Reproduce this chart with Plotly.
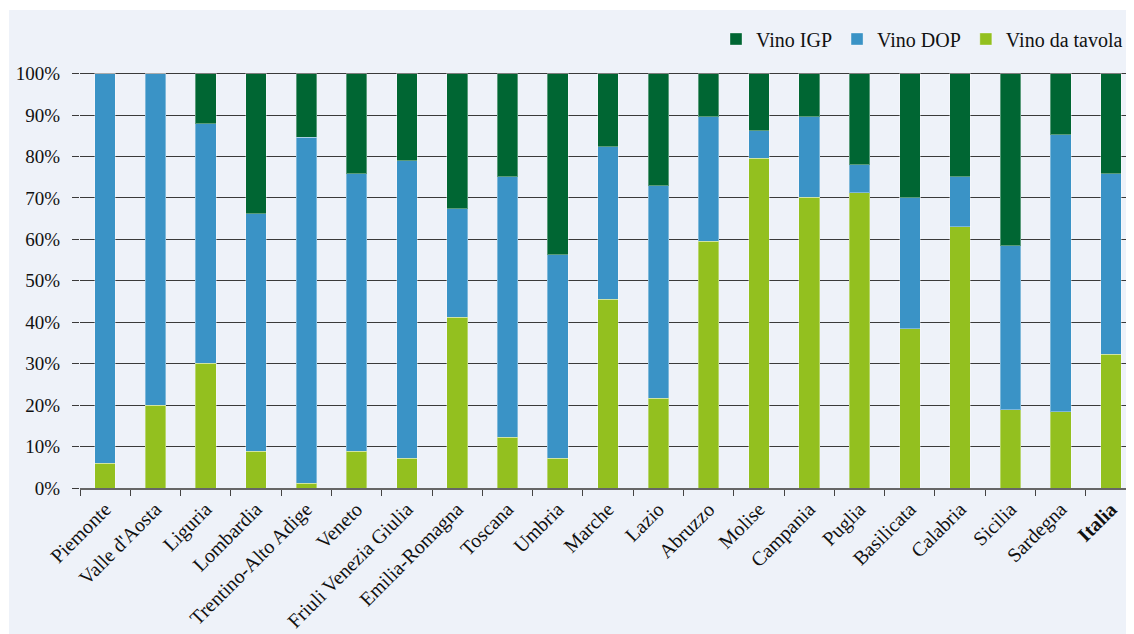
import plotly.graph_objects as go

regions = ["Piemonte", "Valle d'Aosta", "Liguria", "Lombardia", "Trentino-Alto Adige",
           "Veneto", "Friuli Venezia Giulia", "Emilia-Romagna", "Toscana", "Umbria",
           "Marche", "Lazio", "Abruzzo", "Molise", "Campania", "Puglia", "Basilicata",
           "Calabria", "Sicilia", "Sardegna", "Italia"]

# shares (%)
vino_tavola = [6.0, 20.0, 30.1, 8.9, 1.1, 8.9, 7.2, 41.2, 12.2, 7.2,
               45.6, 21.7, 59.6, 79.6, 70.2, 71.3, 38.4, 63.0, 18.9, 18.4, 32.3]
vino_dop = [94.0, 80.0, 57.8, 57.3, 83.5, 66.9, 71.8, 26.2, 62.9, 49.1,
            36.8, 51.2, 30.0, 6.6, 19.4, 6.7, 31.7, 12.1, 39.6, 66.9, 43.5]
vino_igp = [0.0, 0.0, 12.1, 33.8, 15.4, 24.2, 21.0, 32.6, 24.9, 43.7,
            17.6, 27.1, 10.4, 13.8, 10.4, 22.0, 29.9, 24.9, 41.5, 14.7, 24.2]

tick_labels = [r if r != "Italia" else "<b>Italia</b>" for r in regions]
y_ticks = [0, 10, 20, 30, 40, 50, 60, 70, 80, 90, 100]
y_tick_text = [f"{v}%" for v in y_ticks]

FONT = "Liberation Serif"
edge = dict(color="rgba(255,255,255,0.35)", width=1)

fig = go.Figure()
fig.add_trace(go.Bar(x=regions, y=vino_tavola, name="Vino da tavola",
                     marker=dict(color="#93C01F", line=edge), width=0.41))
fig.add_trace(go.Bar(x=regions, y=vino_dop, name="Vino DOP",
                     marker=dict(color="#3A93C6", line=edge), width=0.41))
fig.add_trace(go.Bar(x=regions, y=vino_igp, name="Vino IGP",
                     marker=dict(color="#006633", line=edge), width=0.41))

# page body has an 8px margin; figure coordinates are page coords - 8
OFF = 8
W, H = 1134 - OFF, 634 - OFF
L, R, T, B = 80 - OFF, 1134 - OFF, 72 - OFF, 488 - OFF

def px_x(px):
    return (px - OFF - L) / (R - L)
def px_y(py):
    return (B - (py - OFF)) / (B - T)

fig.add_shape(type="rect", xref="paper", yref="paper",
              x0=px_x(9), x1=px_x(1140), y0=px_y(640), y1=px_y(10),
              fillcolor="#EEF2F9", line=dict(width=0), layer="below")

fig.update_layout(
    width=W, height=H,
    margin=dict(l=L, r=W - R, t=T, b=H - B, pad=0),
    barmode="stack",
    paper_bgcolor="white",
    plot_bgcolor="rgba(0,0,0,0)",
    font=dict(family=FONT, size=19, color="#111111"),
    legend=dict(orientation="h", x=px_x(1128), xanchor="right", y=px_y(39), yanchor="middle",
                traceorder="reversed", font=dict(family=FONT, size=20, color="#111111"),
                bgcolor="rgba(0,0,0,0)"),
    showlegend=True,
)
fig.update_xaxes(
    type="category", range=[-0.5, 20.457],
    tickmode="array", tickvals=regions, ticktext=tick_labels,
    tickangle=-45, tickson="boundaries", ticks="outside", ticklen=6,
    tickcolor="#444444", tickwidth=1,
    showline=True, linecolor="#666666", linewidth=1.5,
    showgrid=False, tickfont=dict(family=FONT, size=20, color="#111111"),
)
fig.update_yaxes(
    range=[0, 100.4], tickmode="array", tickvals=y_ticks, ticktext=y_tick_text,
    ticks="outside", ticklen=7, tickcolor="#3a3a3a", tickwidth=1,
    ticklabelstandoff=8,
    showgrid=True, gridcolor="#3a3a3a", gridwidth=1, zeroline=False,
    tickfont=dict(family=FONT, size=19, color="#111111"),
)

fig.write_html("out.html")
